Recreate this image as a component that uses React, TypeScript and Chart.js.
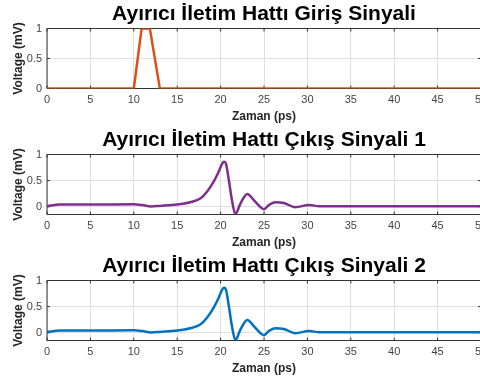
import React, { useEffect, useRef } from "react";
import { Chart, registerables } from "chart.js";

Chart.register(...registerables);

// ---- data ----
const xTickValues = [0, 5, 10, 15, 20, 25, 30, 35, 40, 45, 50];
const yTickValues = [0, 0.5, 1];

const inputTime = [0, 10, 10.9, 11.85, 13, 50];
const inputVoltage = [0, 0, 1, 1, 0, 0];

const outputTime = [
  0, 1.5, 5, 10, 11, 12, 13, 15, 16.5, 17.7, 18.45, 19.2, 19.7, 20.2, 20.4, 20.6,
  20.95, 21.3, 21.7, 22.3, 23.07, 23.8, 24.6, 25.0, 25.55, 26.3, 27.3, 28.6, 30.2,
  31.4, 35, 40, 45, 50,
];
const output1Voltage = [
  0.01, 0.04, 0.04, 0.045, 0.03, 0.005, 0.015, 0.04, 0.085, 0.16, 0.29, 0.48, 0.64,
  0.83, 0.86, 0.83, 0.51, 0.13, -0.14, 0.065, 0.245, 0.13, -0.01, -0.05, 0.03, 0.085,
  0.07, -0.01, 0.03, 0.01, 0.01, 0.01, 0.01, 0.01,
];
const output2Voltage = [
  0.01, 0.04, 0.04, 0.045, 0.03, 0.005, 0.015, 0.04, 0.085, 0.16, 0.29, 0.48, 0.64,
  0.83, 0.86, 0.83, 0.51, 0.13, -0.14, 0.065, 0.245, 0.13, -0.01, -0.05, 0.03, 0.085,
  0.07, -0.01, 0.03, 0.01, 0.01, 0.01, 0.01, 0.01,
];

const titles = [
  "Ayırıcı İletim Hattı Giriş Sinyali",
  "Ayırıcı İletim Hattı Çıkış Sinyali 1",
  "Ayırıcı İletim Hattı Çıkış Sinyali 2",
];
const xLabel = "Zaman (ps)";
const yLabel = "Voltage (mV)";

// ---- styles ----
const FONT = "'Liberation Sans', Arial, Helvetica, sans-serif";
const AXIS = "#333333";
const GRID = "#e0e0e0";
const TICK_TEXT = "#444444";

const boxPlugin = {
  id: "matlabBox",
  beforeDatasetsDraw(chart: any) {
    const { ctx, chartArea, scales } = chart;
    const { left, right, top, bottom } = chartArea;
    ctx.save();
    ctx.strokeStyle = AXIS;
    ctx.lineWidth = 1;
    ctx.beginPath();
    ctx.rect(left, top, right - left, bottom - top);
    xTickValues.forEach((v) => {
      const px = scales.x.getPixelForValue(v);
      ctx.moveTo(px, bottom);
      ctx.lineTo(px, bottom - 3);
      ctx.moveTo(px, top);
      ctx.lineTo(px, top + 3);
    });
    yTickValues.forEach((v) => {
      const py = scales.y.getPixelForValue(v);
      ctx.moveTo(left, py);
      ctx.lineTo(left + 3, py);
      ctx.moveTo(right, py);
      ctx.lineTo(right - 3, py);
    });
    ctx.stroke();
    ctx.restore();
  },
  afterDraw(chart: any) {
    const { ctx, chartArea } = chart;
    const text = chart.options.plugins.axesTitle?.text;
    if (!text) return;
    ctx.save();
    ctx.fillStyle = "#000000";
    ctx.font = `bold 21px ${FONT}`;
    ctx.textAlign = "center";
    ctx.textBaseline = "middle";
    ctx.fillText(text, (chartArea.left + chartArea.right) / 2, 14.5);
    ctx.restore();
  },
};

type PanelProps = {
  top: number;
  title: string;
  xs: number[];
  ys: number[];
  color: string;
  yMin: number;
  smooth: boolean;
};

function Panel({ top, title, xs, ys, color, yMin, smooth }: PanelProps) {
  const ref = useRef<HTMLCanvasElement | null>(null);
  useEffect(() => {
    if (!ref.current) return;
    const chart = new Chart(ref.current, {
      type: "line",
      data: {
        datasets: [
          {
            data: xs.map((x, i) => ({ x, y: ys[i] })),
            borderColor: color,
            backgroundColor: color,
            borderWidth: 2.5,
            pointRadius: 0,
            fill: false,
            tension: 0,
            cubicInterpolationMode: smooth ? "monotone" : "default",
            borderJoinStyle: "round",
          } as any,
        ],
      },
      options: {
        animation: false,
        responsive: false,
        events: [],
        layout: { padding: { left: 0, right: 19, top: 28.5, bottom: 0 } },
        plugins: {
          legend: { display: false },
          tooltip: { enabled: false },
          title: { display: false },
          axesTitle: { text: title },
        },
        scales: {
          x: {
            type: "linear",
            min: 0,
            max: 50,
            afterBuildTicks: (s: any) => {
              s.ticks = xTickValues.map((v) => ({ value: v }));
            },
            ticks: {
              color: TICK_TEXT,
              font: { family: FONT, size: 11 },
              padding: 5,
              maxRotation: 0,
              autoSkip: false,
              callback: (v: any) => String(v),
            },
            grid: { color: GRID, drawTicks: false },
            border: { display: false },
            title: {
              display: true,
              text: xLabel,
              color: "#262626",
              font: { family: FONT, size: 12, weight: "bold" },
              padding: { top: 0, bottom: 2 },
            },
            afterFit: (s: any) => {
              s.height = 37.5;
            },
          },
          y: {
            type: "linear",
            min: yMin,
            max: 1,
            afterBuildTicks: (s: any) => {
              s.ticks = yTickValues.map((v) => ({ value: v }));
            },
            ticks: {
              color: TICK_TEXT,
              font: { family: FONT, size: 11 },
              padding: 5,
              callback: (v: any) => String(v),
            },
            grid: { color: GRID, drawTicks: false },
            border: { display: false },
            title: {
              display: true,
              text: yLabel,
              color: "#262626",
              font: { family: FONT, size: 12, weight: "bold" },
              padding: { top: 11, bottom: 0 },
            },
            afterFit: (s: any) => {
              s.width = 47;
            },
          },
        },
      } as any,
      plugins: [boxPlugin],
    });
    return () => chart.destroy();
  }, []);
  return (
    <div style={{ position: "absolute", left: 0, top, width: 500, height: 126 }}>
      <canvas ref={ref} width={500} height={126} style={{ display: "block" }} />
    </div>
  );
}

export default function App() {
  return (
    <div
      style={{
        position: "fixed",
        left: 0,
        top: 0,
        width: 480,
        height: 383,
        overflow: "hidden",
        background: "#ffffff",
      }}
    >
      <Panel top={0} title={titles[0]} xs={inputTime} ys={inputVoltage} color="#D95319" yMin={0} smooth={false} />
      <Panel top={126} title={titles[1]} xs={outputTime} ys={output1Voltage} color="#7E2F8E" yMin={-0.15} smooth={true} />
      <Panel top={252} title={titles[2]} xs={outputTime} ys={output2Voltage} color="#0072BD" yMin={-0.15} smooth={true} />
    </div>
  );
}
